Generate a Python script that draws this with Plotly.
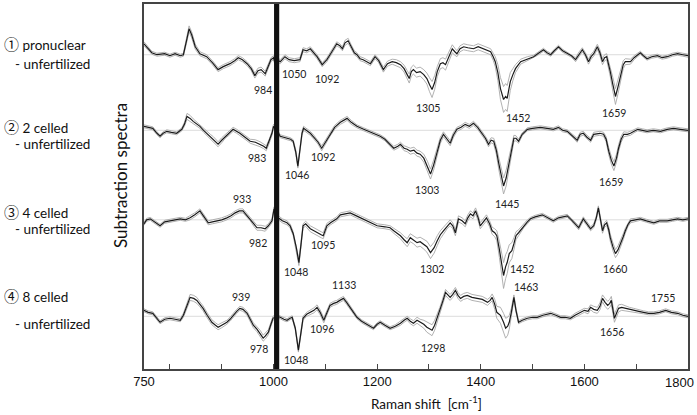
import plotly.graph_objects as go

# ---------------- data (wavenumber, mean deviation, sd) ----------------
spec1 = [(750,11,2),(758,6,2),(765,2,1.5),(775,0,1.5),(790,1,1.5),(800,-1,1.5),(810,1,1.5),(820,-1,1.5),
 (826,0,1.5),(832,14,2.5),(837,26,3),(842,20,3),(849,8,2.5),(858,1,2),(871,-2,2),(882,-8,2),(893,-15,2),
 (903,-12,2),(916,-9,2),(925,-6,2),(932,-3,2),(940,-5,2),(949,-9,2),(957,-14,2),(964,-21,2.5),(970,-16,2.5),
 (976,-15,2.5),(984,-19,2.5),(990,-12,2),(995,-5,2),(1000,-3,2),(1005,-12,2),(1010,-6,2),(1013,-7,2),
 (1022,-2,2),(1030,-5,2),(1040,-6,2),(1051,-5,2),(1057,5,2),(1064,4,2),(1071,6,2),(1078,2,2),(1084,-2,2),
 (1094,-10,2),(1103,-5,2),(1109,0,2),(1115,5,2),(1122,11,2),(1128,9,2),(1133,6,2),(1138,12,2.5),(1144,14,2.5),
 (1150,8,2),(1156,2,2),(1161,0,2),(1167,-4,2),(1173,-5,2),(1180,-7,2),(1187,-9,2),(1196,-2,2),(1203,-6,2),
 (1212,-15,2.5),(1220,-9,2.5),(1229,-7,2.5),(1237,-8,3),(1245,-10,3),(1252,-14,3.5),(1258,-20,4),(1262,-24,4.5),
 (1266,-17,4.5),(1270,-15,4.5),(1276,-18,4.5),(1283,-17,4.5),(1290,-20,5),(1296,-24,5.5),(1301,-30,7),
 (1306,-35,8),(1311,-28,7),(1316,-17,5),(1322,-9,5),(1327,-8,5),(1332,-10,5.5),(1338,-2,5),(1345,6,4),
 (1350,3,3.5),(1354,1,3),(1360,6,3),(1367,8,3),(1375,7,3),(1386,6,3),(1395,8,3),(1405,6,3),(1413,5,3),
 (1419,3,3),(1424,-2,3.5),(1428,-7,5),(1433,-18,8),(1438,-34,11),(1444,-45,13),(1448,-42,13),(1451,-44,13),
 (1454,-35,11),(1457,-27,9),(1462,-20,6),(1467,-14,4),(1477,-7,2.5),(1490,-4,2),(1502,-2,1.5),(1510,1,1.5),
 (1521,5,1.5),(1528,2,1.5),(1535,0,1.5),(1542,4,1.5),(1550,8,1.5),(1558,4,1.5),(1567,1,1.5),(1575,-1,1.5),
 (1583,-5,2),(1590,1,2),(1596,5,2),(1602,0,2),(1608,-7,2.5),(1613,-2,2.5),(1618,1,2.5),(1625,8,2.5),
 (1630,2,3),(1635,-7,3),(1639,-3,3),(1643,-2,3),(1646,-8,3.5),(1650,-17,5),(1655,-30,7),(1660,-42,8),
 (1665,-32,7),(1670,-20,5),(1675,-10,4),(1679,-7,3),(1689,-7,2.5),(1696,-3,2),(1703,0,1.5),(1708,2,1.5),
 (1714,-1,1.5),(1721,-4,1.5),(1730,-2,1.5),(1741,-1,1.5),(1750,-3,1.5),(1760,-2,1.5),(1770,0,1.5),
 (1780,1,1.5),(1790,0,1.5),(1800,-1,1.5)]

spec2 = [(750,4,1.5),(758,3,1.5),(767,2,1.5),(775,-3,1.5),(781,-6,1.5),(787,-3,1.5),(794,-1,1.5),(803,-2,1.5),
 (813,-3,1.5),(823,1,1.5),(828,6,2),(833,14,3),(839,12,3),(845,9,2.5),(852,6,2),(858,4,2),(865,0,2),
 (871,-3,2),(878,-6,2),(884,-9,2.5),(893,-14,2.5),(900,-10,2.5),(907,-6,2),(914,-3,2),(922,1,2),(929,-1,2),
 (935,-3,2),(945,-7,2),(955,-11,2),(965,-12,2.5),(974,-14,2.5),(981,-16,2.5),(986,-18,2.5),(991,-12,2),
 (997,-3,2),(1000,4,2),(1006,0,2),(1013,-6,1.5),(1020,-7,1.5),(1026,-8,1.5),(1033,-9,1.5),(1038,-11,1.5),
 (1043,-22,2),(1047,-36,2),(1051,-20,2),(1055,-3,2),(1058,2,2),(1064,0,2),(1071,-3,2),(1078,-7,2),
 (1086,-12,2),(1093,-18,2.5),(1100,-12,2),(1109,-4,2),(1118,3,2),(1129,8,2),(1136,10,2),(1142,12,2),
 (1150,8,2),(1161,4,1.5),(1174,1,1.5),(1187,-2,1.5),(1197,-4,1.5),(1206,-6,1.5),(1215,-9,1.5),(1225,-14,2),
 (1232,-18,2),(1240,-16,2),(1245,-14,2),(1252,-18,2.5),(1258,-19,2.5),(1264,-21,3),(1271,-20,3),
 (1277,-23,3),(1283,-24,3),(1290,-28,4),(1297,-36,5),(1303,-44,5),(1309,-35,5),(1316,-21,4),(1322,-10,3),
 (1328,-4,2.5),(1334,-8,2.5),(1341,-13,2.5),(1347,-5,2.5),(1354,1,2),(1362,3,2),(1370,6,2),(1378,4,2),
 (1386,7,2),(1394,3,2),(1403,-3,2),(1409,-8,2),(1415,-14,2.5),(1420,-10,2.5),(1425,-11,3),(1430,-20,4),
 (1435,-34,6),(1440,-48,7),(1444,-56,8),(1449,-48,8),(1454,-34,6),(1459,-20,4),(1464,-8,3),(1468,-8,2.5),
 (1473,-11,2),(1480,-4,1.5),(1490,1,1.5),(1500,2,1.5),(1515,3,1.5),(1528,2,1.5),(1540,1,1.5),(1550,3,1.5),
 (1558,0,1.5),(1567,-1,1.5),(1576,-5,1.5),(1586,-10,2),(1592,-4,2),(1598,-3,2),(1605,-7,2),(1612,-10,2),
 (1618,-4,2),(1625,-3,2),(1630,-3,2),(1637,-4,2),(1642,-9,2.5),(1647,-21,3.5),(1652,-30,4),(1657,-36,4.5),
 (1662,-28,4),(1666,-18,3.5),(1671,-9,3),(1676,-4,2.5),(1683,-4,2),(1689,-3,2),(1696,-1,1.5),(1703,1,1.5),
 (1712,0,1.5),(1721,-1,1.5),(1733,0,1.5),(1747,-1,1.5),(1760,1,1.5),(1772,2,1.5),(1785,1,1.5),(1800,0,1.5)]

spec3 = [(750,-4,1.5),(755,0,1.5),(762,1,1.5),(770,-2,1.5),(781,-6,1.5),(790,-2,1.5),(800,-1,1.5),(810,0,1.5),
 (820,1,1.5),(830,0,1.5),(839,2,2),(848,5,2),(858,9,2),(866,3,2),(874,-3,2),(882,-2,2),(891,-1,2),(900,0,2),
 (910,2,2),(918,4,2),(926,7,2),(934,9,2),(941,9,2),(948,5,2),(955,1,2),(962,-4,2.5),(968,-8,2.5),
 (976,-8,2.5),(984,-9,2.5),(990,-6,2),(997,-1,2),(1001,11,2),(1006,2,2),(1012,1,2),(1017,-1,2),(1026,-3,2),
 (1032,-6,2),(1038,-14,2),(1044,-28,2.5),(1049,-43,3),(1053,-25,2.5),(1057,-6,2),(1062,-4,2.5),(1071,-9,3),
 (1078,-11,3),(1084,-13,3),(1092,-15,3),(1096,-16,3),(1103,-6,2.5),(1110,-3,2),(1122,1,2),(1129,5,2),
 (1138,6,2),(1148,7,2),(1160,4,2),(1173,1,2),(1187,-3,2),(1200,-6,2),(1215,-7,2),(1225,-8,2),(1232,-11,2.5),
 (1245,-16,3),(1252,-20,3.5),(1258,-23,4),(1264,-18,4),(1270,-20,4),(1277,-23,4.5),(1283,-22,4.5),
 (1289,-24,5),(1296,-27,5.5),(1303,-33,6),(1310,-28,5.5),(1316,-21,5),(1322,-15,4),(1328,-11,3.5),
 (1335,-6,3),(1341,-3,3),(1346,-6,3),(1351,-13,3),(1357,1,3),(1364,-1,3),(1370,-4,3),(1375,2,3),(1380,6,3),
 (1385,4,3),(1390,9,3),(1395,2,3),(1399,-6,3),(1405,-2,3),(1411,2,3),(1417,-4,3),(1422,-11,3.5),
 (1427,-13,4),(1431,-16,5),(1436,-30,8),(1440,-45,11),(1444,-56,13),(1448,-47,12),(1451,-43,11),
 (1455,-34,9),(1460,-31,8),(1464,-24,6),(1468,-16,4),(1473,-13,3),(1483,-6,2),(1490,-2,2),(1496,1,1.5),
 (1505,3,1.5),(1519,5,1.5),(1530,2,1.5),(1540,-1,1.5),(1550,2,1.5),(1560,3,1.5),(1567,4,1.5),(1575,0,1.5),
 (1583,-5,2),(1589,-8,2),(1594,-3,2),(1598,1,2),(1605,-4,2),(1612,-9,2),(1618,-6,2),(1623,2,2),(1627,12,2),
 (1631,0,2),(1635,-11,2.5),(1639,-5,2.5),(1643,-3,2.5),(1647,-10,3),(1650,-18,3.5),(1655,-27,4),
 (1660,-34,4),(1665,-30,4),(1670,-24,3.5),(1675,-17,3),(1679,-11,2.5),(1684,-5,2),(1689,-1,2),(1698,0,1.5),
 (1708,1,1.5),(1720,-1,1.5),(1734,-3,1.5),(1745,-1,1.5),(1760,-1,1.5),(1770,0,1.5),(1780,1,1.5),
 (1790,0,1.5),(1800,1,1.5)]

spec4 = [(750,6,1.5),(758,4,1.5),(767,3,1.5),(775,-2,1.5),(781,-6,1.5),(790,-3,1.5),(800,-2,1.5),(810,-3,1.5),
 (820,-4,1.5),(826,1,2),(832,10,2.5),(839,19,3),(846,18,3),(852,16,3),(858,12,2.5),(864,8,2.5),(872,1,2.5),
 (881,-6,2.5),(888,-9,2.5),(893,-11,2.5),(900,-9,2.5),(910,-6,2),(916,-3,2),(922,1,2),(929,5,2),(935,8,2),
 (941,7,2),(949,3,2),(955,-3,2),(961,-9,2.5),(968,-13,2.5),(974,-17,3),(980,-22,3),(984,-20,3),(990,-16,2.5),
 (995,-8,2),(999,-2,2),(1005,0,2),(1013,-1,1.5),(1020,-3,1.5),(1026,-4,1.5),(1032,-2,1.5),(1036,-1,1.5),
 (1042,-12,1.5),(1048,-34,2),(1052,-20,2),(1057,-2,2),(1064,2,2),(1071,4,2),(1078,6,2.5),(1084,9,2.5),
 (1090,4,2.5),(1097,-4,2.5),(1103,4,2),(1109,11,2),(1116,13,2),(1122,14,2),(1128,16,2),(1135,18,2),
 (1141,14,2),(1148,9,2),(1155,4,1.5),(1161,-1,1.5),(1170,-5,1.5),(1177,-7,1.5),(1185,-10,1.5),(1193,-12,1.5),
 (1200,-8,1.5),(1206,-6,1.5),(1215,-9,1.5),(1225,-12,1.5),(1235,-10,1.5),(1245,-7,2),(1252,-4,2),
 (1258,-2,2),(1264,-5,2.5),(1270,-7,2.5),(1277,-4,3),(1283,-6,3),(1290,-8,4),(1296,-11,5),(1302,-13,5.5),
 (1306,-14,5.5),(1311,-9,5),(1316,-2,4),(1321,6,3),(1326,14,3),(1332,24,3),(1337,21,3),(1341,19,3),
 (1346,22,3),(1351,26,3),(1356,21,3),(1361,18,3),(1367,20,3),(1374,21,3),(1383,19,3),(1393,18,3),
 (1403,17,3),(1413,14,3),(1418,16,3),(1422,19,3.5),(1427,12,5),(1431,4,6),(1438,1,8),(1444,-6,9),
 (1448,-12,10),(1452,-10,9),(1455,-6,7),(1459,4,4),(1464,19,2.5),(1468,6,2),(1473,-6,1.5),(1480,-4,1.5),
 (1490,-2,1.5),(1500,-1,1.5),(1509,-1,1.5),(1520,1,1.5),(1535,3,1.5),(1545,1,1.5),(1554,-1,1.5),
 (1563,-1,1.5),(1573,-2,1.5),(1582,1,2),(1592,4,2),(1600,6,2),(1607,5,2.5),(1612,9,2.5),(1618,7,3),
 (1625,6,3),(1630,10,3.5),(1635,18,3.5),(1640,14,4),(1645,11,4),(1649,13,4),(1652,16,4),(1655,7,4),
 (1658,-2,4),(1662,3,4),(1666,8,3.5),(1672,9,3),(1679,8,2.5),(1687,7,2),(1695,6,2),(1705,5,1.5),
 (1714,4,1.5),(1724,3,1.5),(1734,3,1.5),(1745,4,1.5),(1757,6,1.5),(1768,4,1.5),(1780,3,1.5),(1790,1,1.5),
 (1800,0,1.5)]

spectra = [spec1, spec2, spec3, spec4]
group_marks = ["\u2460", "\u2461", "\u2462", "\u2463"]
group_names = ["pronuclear", "2 celled", "4 celled", "8 celled"]
group_sub = "- unfertilized"

# peak labels: (spectrum index, text)
peak_texts = [
    (0, "984"), (0, "1050"), (0, "1092"), (0, "1305"), (0, "1452"), (0, "1659"),
    (1, "983"), (1, "1046"), (1, "1092"), (1, "1303"), (1, "1445"), (1, "1659"),
    (2, "933"), (2, "982"), (2, "1048"), (2, "1095"), (2, "1302"), (2, "1452"), (2, "1660"),
    (3, "939"), (3, "978"), (3, "1048"), (3, "1133"), (3, "1096"), (3, "1298"), (3, "1463"), (3, "1656"), (3, "1755"),
]
xtick_vals = [750, 1000, 1200, 1400, 1600, 1800]
minor_vals = [800, 900, 1100, 1300, 1500, 1700]

# ---------------- layout constants ----------------
offsets = [316, 240, 150, 53]          # baseline of each stacked spectrum (y units)
label_pos = [(980, 281), (1040, 297), (1104, 292), (1299, 262), (1471, 252), (1658, 257),
             (968, 212), (1046, 195), (1096, 213), (1297, 180), (1451, 166), (1652, 188),
             (939, 171), (970, 127), (1044, 98), (1096, 125), (1305, 101), (1480, 101), (1660, 101),
             (937, 72), (972, 20), (1044, 9), (1136, 84), (1094, 40), (1307, 21), (1488, 82), (1654, 37), (1751, 71)]
group_label_y = [(42, 62), (125, 143), (211, 228), (295, 324)]   # pixel rows

W, H = 697, 415
L, R, T, B = 144, 9, 2, 46
PH = H - T - B
PW = W - L - R
FONT = "Lato, sans-serif"

def px_to_paper_y(py):
    return (H - B - py) / PH

def px_to_paper_x(px):
    return (px - L) / PW

fig = go.Figure()

for k, spec in enumerate(spectra):
    off = offsets[k]
    wn = [p[0] for p in spec]
    mu = [off + p[1] for p in spec]
    hi = [off + p[1] + p[2] for p in spec]
    lo = [off + p[1] - p[2] for p in spec]
    fig.add_trace(go.Scatter(x=[750, 1800], y=[off, off], mode="lines",
                             line=dict(color="#dcdcdc", width=1), hoverinfo="skip", showlegend=False))
    for band in (hi, lo):
        fig.add_trace(go.Scatter(x=wn, y=band, mode="lines",
                                 line=dict(color="#a8a8a8", width=0.9), hoverinfo="skip", showlegend=False))
    fig.add_trace(go.Scatter(x=wn, y=mu, mode="lines",
                             line=dict(color="#1a1a1a", width=1.2), showlegend=False))

# thick black bar
fig.add_shape(type="rect", xref="x", yref="paper", x0=1001, x1=1011, y0=0, y1=1,
              fillcolor="#111111", line=dict(width=0), layer="above")

annos = []
for (k, txt), (lx, ly) in zip(peak_texts, label_pos):
    annos.append(dict(x=lx, y=ly, xref="x", yref="y", text=txt, showarrow=False,
                      font=dict(family=FONT, size=10.5, color="#222")))

for mark, name, (y1, y2) in zip(group_marks, group_names, group_label_y):
    l1 = ('<span style="font-family:\'Noto Sans CJK JP\';font-size:15px">' + mark + '</span> ' + name)
    annos.append(dict(x=px_to_paper_x(2), y=px_to_paper_y(y1), xref="paper", yref="paper", text=l1,
                      showarrow=False, xanchor="left", yanchor="middle",
                      font=dict(family=FONT, size=13.5, color="#111")))
    annos.append(dict(x=px_to_paper_x(13), y=px_to_paper_y(y2), xref="paper", yref="paper", text=group_sub,
                      showarrow=False, xanchor="left", yanchor="middle",
                      font=dict(family=FONT, size=13.5, color="#111")))

annos.append(dict(x=px_to_paper_x(120), y=px_to_paper_y(175), xref="paper", yref="paper",
                  text="Subtraction spectra", textangle=-90, showarrow=False,
                  xanchor="center", yanchor="middle",
                  font=dict(family=FONT, size=17, color="#111")))
annos.append(dict(x=px_to_paper_x(426), y=px_to_paper_y(403), xref="paper", yref="paper",
                  text="Raman shift  [cm<sup>-1</sup>]", showarrow=False,
                  xanchor="center", yanchor="middle",
                  font=dict(family=FONT, size=13.5, color="#111")))
# last tick label, kept inside the figure like the reference
annos.append(dict(x=px_to_paper_x(696), y=px_to_paper_y(383), xref="paper", yref="paper",
                  text=str(xtick_vals[-1]), showarrow=False, xanchor="right", yanchor="middle",
                  font=dict(family="Liberation Sans, Arial, sans-serif", size=13, color="#111")))

fig.update_layout(
    width=W, height=H, margin=dict(l=L, r=R, t=T, b=B),
    paper_bgcolor="white", plot_bgcolor="white",
    annotations=annos,
    xaxis=dict(range=[750, 1800], tickvals=xtick_vals[:-1],
               ticktext=[str(v) for v in xtick_vals[:-1]],
               ticks="inside", ticklen=5, tickcolor="#444", showgrid=False, zeroline=False,
               showline=True, mirror=True, linecolor="#444", linewidth=1.5,
               tickfont=dict(family="Liberation Sans, Arial, sans-serif", size=13, color="#111"),
               minor=dict(tickvals=minor_vals, ticks="inside", ticklen=5, tickcolor="#444")),
    yaxis=dict(range=[0, PH], showticklabels=False, ticks="", showgrid=False, zeroline=False,
               showline=True, mirror=True, linecolor="#444", linewidth=1.5),
)

fig.write_html("out.html", config={"displayModeBar": False})
with open("out.html", "r", encoding="utf-8") as f:
    html = f.read()
html = html.replace("<body>", '<body style="margin:0;padding:0;overflow:hidden;">', 1)
with open("out.html", "w", encoding="utf-8") as f:
    f.write(html)
